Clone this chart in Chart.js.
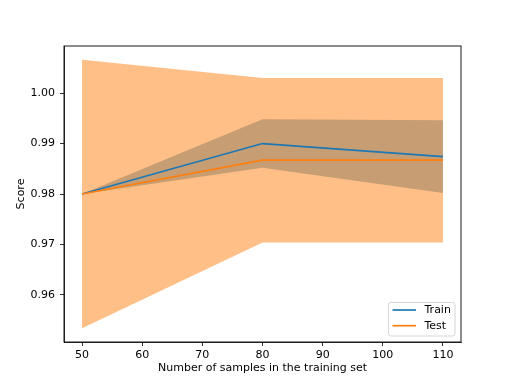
<!DOCTYPE html>
<html><head><meta charset="utf-8">
<script src="https://cdn.jsdelivr.net/npm/chart.js@4/dist/chart.umd.min.js"></script>
<style>html,body{margin:0;padding:0;background:#fff;}</style>
</head><body>
<canvas id="c" width="512" height="384" style="width:512px;height:384px;display:block"></canvas>
<script>
// ---- data ----
const trainSizes = [50, 80, 110];
const trainMean = [0.9800, 0.9900, 0.9874];
const trainStd  = [0.0000, 0.0048, 0.0072];
const testMean  = [0.9800, 0.9867, 0.9867];
const testStd   = [0.0266, 0.0163, 0.0163];
const xTicks = [50, 60, 70, 80, 90, 100, 110];
const yTicks = [0.96, 0.97, 0.98, 0.99, 1.00];
const seriesNames = ['Train', 'Test'];
const xTitle = 'Number of samples in the training set';
const yTitle = 'Score';

const BLUE = '#1f77b4', ORANGE = '#ff7f0e';
const FONT = {family: "'DejaVu Sans', sans-serif", size: 11};

const pts = (ys) => trainSizes.map((x, i) => ({x, y: ys[i]}));
const trainLo = trainMean.map((m, i) => m - trainStd[i]);
const trainHi = trainMean.map((m, i) => m + trainStd[i]);
const testLo = testMean.map((m, i) => m - testStd[i]);
const testHi = testMean.map((m, i) => m + testStd[i]);

const bandDs = (data, fill, color, order) => ({
  data: pts(data), borderWidth: 0, pointRadius: 0, fill, backgroundColor: color,
  order, tension: 0, showLine: true
});

const datasets = [
  // 0,1 train band (bottom)
  bandDs(trainLo, false, 'rgba(0,0,0,0)', 4),
  bandDs(trainHi, {target: 0}, 'rgba(31,119,180,0.5)', 4),
  // 2,3 test band
  bandDs(testLo, false, 'rgba(0,0,0,0)', 3),
  bandDs(testHi, {target: 2}, 'rgba(255,127,14,0.5)', 3),
  // lines
  {label: seriesNames[0], data: pts(trainMean), borderColor: BLUE, borderWidth: 1.7, pointRadius: 0, fill: false, order: 2, tension: 0},
  {label: seriesNames[1], data: pts(testMean), borderColor: ORANGE, borderWidth: 1.7, pointRadius: 0, fill: false, order: 1, tension: 0}
];

const framePlugin = {
  id: 'frame',
  afterDatasetsDraw(chart) {
    const {ctx, chartArea: a} = chart;
    ctx.save();
    ctx.strokeStyle = '#000';
    ctx.lineWidth = 0.9;
    ctx.strokeRect(a.left, a.top, a.right - a.left, a.bottom - a.top);
    ctx.restore();
  }
};

const legendPlugin = {
  id: 'mplLegend',
  afterDraw(chart) {
    const {ctx, chartArea: a} = chart;
    const lines = [datasets[4], datasets[5]];
    const w = 66.5, h = 33.5;
    const x0 = a.right - 6 - w, y0 = a.bottom - 6 - h;
    ctx.save();
    ctx.beginPath();
    const r = 2.5;
    ctx.moveTo(x0 + r, y0);
    ctx.arcTo(x0 + w, y0, x0 + w, y0 + h, r);
    ctx.arcTo(x0 + w, y0 + h, x0, y0 + h, r);
    ctx.arcTo(x0, y0 + h, x0, y0, r);
    ctx.arcTo(x0, y0, x0 + w, y0, r);
    ctx.closePath();
    ctx.fillStyle = 'rgba(255,255,255,0.8)';
    ctx.fill();
    ctx.strokeStyle = '#cccccc';
    ctx.lineWidth = 0.8;
    ctx.stroke();
    ctx.font = "11px 'DejaVu Sans', sans-serif";
    ctx.textBaseline = 'middle';
    ctx.textAlign = 'left';
    lines.forEach((ds, i) => {
      const y = y0 + 7.5 + i * 15.7;
      ctx.beginPath();
      ctx.moveTo(x0 + 4, y);
      ctx.lineTo(x0 + 27.5, y);
      ctx.strokeStyle = ds.borderColor;
      ctx.lineWidth = 1.7;
      ctx.stroke();
      ctx.fillStyle = '#000';
      ctx.fillText(ds.label, x0 + 36, y + 0.5);
    });
    ctx.restore();
  }
};

new Chart(document.getElementById('c'), {
  type: 'line',
  data: {datasets},
  plugins: [framePlugin, legendPlugin],
  options: {
    responsive: false,
    animation: false,
    devicePixelRatio: 1,
    layout: {padding: {left: 0, top: 46, right: 51, bottom: 0}},
    plugins: {
      legend: {display: false},
      tooltip: {enabled: false},
      filler: {drawTime: 'beforeDatasetsDraw', propagate: false}
    },
    elements: {line: {borderCapStyle: 'butt', borderJoinStyle: 'round'}},
    scales: {
      x: {
        type: 'linear', min: 47, max: 113,
        afterBuildTicks: s => { s.ticks = xTicks.map(v => ({value: v})); },
        afterFit: s => { s.height = 42; },
        grid: {drawOnChartArea: false, drawTicks: true, tickLength: 4, color: '#000', lineWidth: 0.8},
        border: {display: true, color: '#000', width: 0.8},
        ticks: {color: '#000', font: FONT, padding: 3, maxRotation: 0, autoSkip: false, callback: v => String(v)},
        title: {display: true, text: xTitle, color: '#000', font: FONT, padding: {top: 0, bottom: 9}}
      },
      y: {
        type: 'linear', min: 0.95067, max: 1.00933,
        afterBuildTicks: s => { s.ticks = yTicks.map(v => ({value: v})); },
        afterFit: s => { s.width = 64; },
        grid: {drawOnChartArea: false, drawTicks: true, tickLength: 4, color: '#000', lineWidth: 0.8},
        border: {display: true, color: '#000', width: 0.8},
        ticks: {color: '#000', font: FONT, padding: 5, autoSkip: false, callback: v => v.toFixed(2)},
        title: {display: true, text: yTitle, color: '#000', font: FONT, padding: {top: 15, bottom: 0}}
      }
    }
  }
});
</script>
</body></html>
